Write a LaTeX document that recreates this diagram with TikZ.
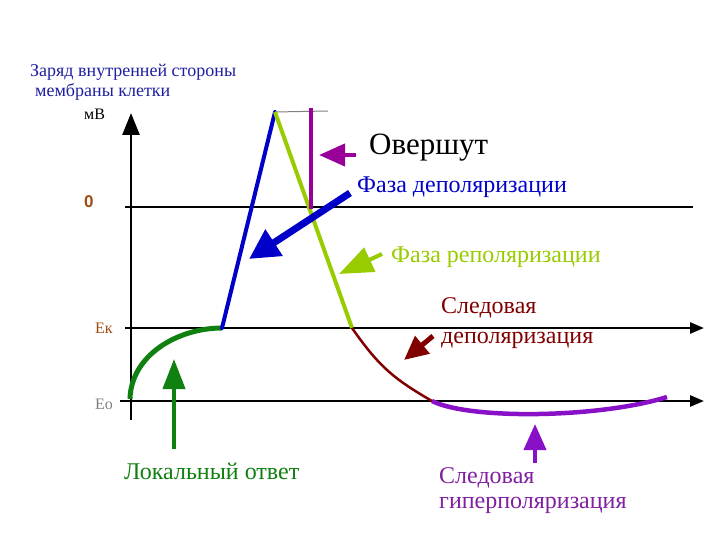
\documentclass[tikz,border=0pt]{standalone}
\usepackage{fontspec}
\setmainfont{Liberation Serif}
\newfontfamily\sansb{Liberation Sans}
\usetikzlibrary{arrows.meta}
\definecolor{titleblue}{RGB}{30,30,160}
\definecolor{lineblue}{RGB}{0,0,200}
\definecolor{ygreen}{RGB}{153,204,0}
\definecolor{opurple}{RGB}{153,0,153}
\definecolor{hpurple}{RGB}{136,17,200}
\definecolor{htext}{RGB}{128,32,160}
\definecolor{dred}{RGB}{128,0,0}
\definecolor{lgreen}{RGB}{16,128,16}
\definecolor{brown}{RGB}{160,74,16}
\definecolor{greyE}{RGB}{128,128,128}
\tikzset{
  axisline/.style={line width=2.6pt, black},
  lbl/.style={anchor=west, inner sep=0pt},
  fs/.style={font=\fontsize{#1}{#1}\selectfont},
}
\begin{document}
\begin{tikzpicture}[x=1pt,y=-1pt]
\useasboundingbox (0,0) rectangle (720,540);
% title
\node[lbl, fs=18, text=titleblue] (t1) at (30,72) {Заряд внутренней стороны};
\node[lbl, fs=18, text=titleblue] (t2) at (35,92) {мембраны клетки};
\node[lbl, fs=16] (mv) at (84,114) {мВ};
% axes
\draw[axisline, -{Triangle[length=22pt,width=17pt]}] (131,420) -- (131,113);
\draw[axisline] (125,207) -- (693,207);
\draw[axisline, -{Triangle[length=14pt,width=11pt]}] (125,328) -- (704,328);
\draw[axisline, -{Triangle[length=14pt,width=11pt]}] (120,401) -- (704,401);
\node[lbl, text=brown, font=\sansb\bfseries\fontsize{17}{17}\selectfont] (zero) at (84,202) {0};
\node[lbl, fs=16, text=brown] (ek) at (95,328) {Eк};
\node[lbl, fs=16, text=greyE] (eo) at (95,404) {Eo};
% curve
\coordinate (a) at (130,399);
\coordinate (b) at (222,328);
\coordinate (c) at (275,112);
\coordinate (d) at (352,328);
\coordinate (e) at (432,401);
\coordinate (f) at (667,397);
\draw[line width=5pt, lgreen] (a) .. controls (131,355) and (178,328) .. (b);
\draw[line width=4pt, lineblue, line cap=round] (b) -- (c);
\draw[line width=1pt, gray] (c) -- (328,111);
\draw[line width=4pt, ygreen] (c) -- (d);
\draw[line width=2.5pt, dred] (d) .. controls (378,365) and (392,378) .. (e);
\draw[line width=4.5pt, hpurple] (e) .. controls (470,420) and (600,418) .. (f);
\draw[line width=4pt, opurple] (311,108) -- (311,209);
% labels and arrows
\node[lbl, fs=31] (over) at (369,148) {Овершут};
\draw[line width=4pt, opurple, {-{Triangle[length=26pt,width=22pt]}}] (356,155) -- (319,155);
\node[lbl, fs=24, text=lineblue] (dep) at (357,187) {Фаза деполяризации};
\draw[line width=7pt, lineblue, {-{Triangle[length=30pt,width=30pt]}}] (350,193) -- (249,259);
\node[lbl, fs=24, text=ygreen] (rep) at (391,257) {Фаза реполяризации};
\draw[line width=4pt, ygreen, {-{Triangle[length=34pt,width=26pt]}}] (382,254) -- (339,274);
\node[lbl, anchor=base west, fs=24, text=dred] (sd1) at (441,313) {Следовая};
\node[lbl, anchor=base west, fs=24, text=dred] (sd2) at (441,343) {деполяризация};
\draw[line width=5pt, dred, {-{Triangle[length=24pt,width=22pt]}}] (433,336) -- (404,360);
\node[lbl, fs=24, text=htext] (sh1) at (439,478) {Следовая};
\node[lbl, fs=24, text=htext] (sh2) at (439,505) {гиперполяризация};
\draw[line width=4pt, hpurple, {-{Triangle[length=26pt,width=22pt]}}] (535,463) -- (535,424);
\node[lbl, fs=24, text=lgreen] (loc) at (124,471) {Локальный ответ};
\draw[line width=4pt, lgreen, {-{Triangle[length=30pt,width=22pt]}}] (174,449) -- (174,359);
\end{tikzpicture}
\end{document}
